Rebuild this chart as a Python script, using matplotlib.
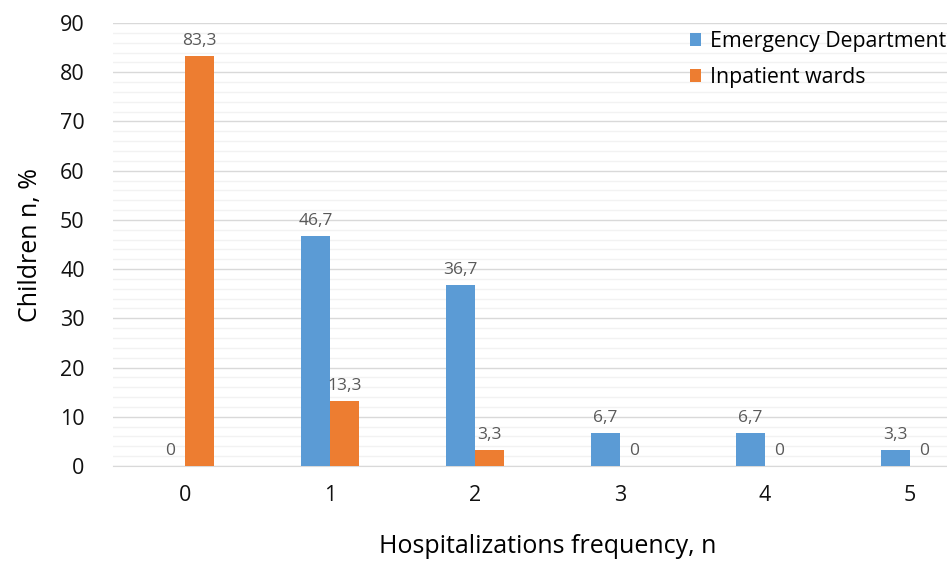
import numpy as np
import matplotlib.pyplot as plt
from matplotlib.ticker import MultipleLocator

plt.rcParams['font.family'] = ['Open Sans', 'DejaVu Sans']

categories = ['0', '1', '2', '3', '4', '5']
emergency = [0, 46.7, 36.7, 6.7, 6.7, 3.3]
inpatient = [83.3, 13.3, 3.3, 0, 0, 0]

blue = '#5B9BD5'
orange = '#ED7D31'

fig = plt.figure(figsize=(9.47, 5.63), dpi=100)
# plot area runs a little past the right edge of the figure
ax = fig.add_axes([112.5 / 947, 97 / 563, 870 / 947, 443 / 563])

x = np.arange(len(categories))
w = 0.2
b1 = ax.bar(x - w / 2, emergency, w, color=blue, label='Emergency Department', zorder=3)
b2 = ax.bar(x + w / 2, inpatient, w, color=orange, label='Inpatient wards', zorder=3)

for bars, vals in [(b1, emergency), (b2, inpatient)]:
    for rect, v in zip(bars, vals):
        ax.annotate(f'{v:g}'.replace('.', ','),
                    (rect.get_x() + rect.get_width() / 2, v),
                    xytext=(0, 5), textcoords='offset points',
                    ha='center', va='bottom', fontsize=12.5, color='#595959')

ax.set_xlim(-0.5, len(categories) - 0.5)
ax.set_ylim(0, 90)
ax.yaxis.set_major_locator(MultipleLocator(10))
ax.yaxis.set_minor_locator(MultipleLocator(2))
ax.grid(which='major', axis='y', color='#D9D9D9', linewidth=1, zorder=0)
ax.grid(which='minor', axis='y', color='#F2F2F2', linewidth=1, zorder=0)
ax.set_axisbelow(True)

ax.set_xticks(x)
ax.set_xticklabels(categories)
ax.tick_params(axis='both', which='both', length=0, labelsize=15.5, colors='#111111')
ax.tick_params(axis='x', pad=14)
ax.tick_params(axis='y', pad=20)

for s in ['top', 'right', 'left']:
    ax.spines[s].set_visible(False)
ax.spines['bottom'].set_color('#D9D9D9')

ax.set_ylabel('Children n, %', fontsize=18, labelpad=12)
ax.set_xlabel('Hospitalizations frequency, n', fontsize=18, labelpad=20)

leg = ax.legend(loc='upper left', bbox_to_anchor=(558 / 870, 1.025), frameon=False,
                fontsize=15.3, handlelength=0.55, handleheight=0.55,
                handletextpad=0.4, labelspacing=0.72)

fig.savefig('out.png', dpi=100)
